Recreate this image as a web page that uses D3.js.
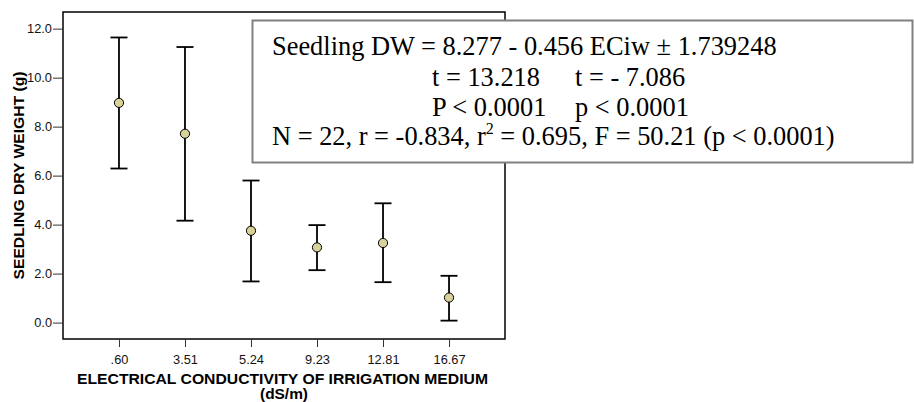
<!DOCTYPE html>
<html>
<head>
<meta charset="utf-8">
<script src="https://cdn.jsdelivr.net/npm/d3@7"></script>
<style>
  html, body { margin: 0; padding: 0; background: #fff; }
  svg { display: block; }
</style>
</head>
<body>
<svg id="chart" width="914" height="402"></svg>
<script>
// ---- data ----
const categories = [".60", "3.51", "5.24", "9.23", "12.81", "16.67"];
const means = [8.97, 7.71, 3.75, 3.07, 3.25, 1.02];
const upper = [11.64, 11.25, 5.80, 3.98, 4.87, 1.91];
const lower = [6.29, 4.16, 1.68, 2.14, 1.65, 0.08];
const yTicks = [0, 2, 4, 6, 8, 10, 12];
const xTitle = "ELECTRICAL CONDUCTIVITY OF IRRIGATION MEDIUM";
const xTitle2 = "(dS/m)";
const yTitle = "SEEDLING DRY WEIGHT (g)";

const svg = d3.select("#chart");
const pL = 63, pR = 505, pT = 12, pB = 339;

const x = d3.scalePoint().domain(categories).range([pL, pR]).padding(0.848);
const y = d3.scaleLinear().domain([-0.67, 12.68]).range([pB, pT]);

// frame
svg.append("rect")
  .attr("x", pL).attr("y", pT)
  .attr("width", pR - pL).attr("height", pB - pT)
  .attr("fill", "none").attr("stroke", "#000").attr("stroke-width", 1.5);

const sans = "Liberation Sans, Arial, sans-serif";

// y axis
const yAxis = d3.axisLeft(y).tickValues(yTicks).tickFormat(d3.format(".1f")).tickSize(10).tickPadding(1);
const gy = svg.append("g").attr("transform", `translate(${pL},0)`).call(yAxis);
gy.select(".domain").remove();
gy.selectAll(".tick line").attr("stroke", "#333");
gy.selectAll(".tick text").attr("font-family", sans)
  .attr("font-size", 12.8).attr("fill", "#111");

// x axis
const xAxis = d3.axisBottom(x).tickSize(8).tickPadding(8);
const gx = svg.append("g").attr("transform", `translate(0,${pB})`).call(xAxis);
gx.select(".domain").remove();
gx.selectAll(".tick line").attr("stroke", "#333");
gx.selectAll(".tick text").attr("font-family", sans)
  .attr("font-size", 12.8).attr("fill", "#111");

// axis titles
svg.append("text")
  .attr("x", 282.5).attr("y", 384)
  .attr("text-anchor", "middle")
  .attr("font-family", sans)
  .attr("font-weight", "bold").attr("font-size", 13.8).attr("fill", "#000")
  .attr("textLength", 411).attr("lengthAdjust", "spacingAndGlyphs")
  .text(xTitle);
svg.append("text")
  .attr("x", 284).attr("y", 399)
  .attr("text-anchor", "middle")
  .attr("font-family", sans)
  .attr("font-weight", "bold").attr("font-size", 13.8).attr("fill", "#000")
  .attr("textLength", 48).attr("lengthAdjust", "spacingAndGlyphs")
  .text(xTitle2);
svg.append("text")
  .attr("transform", `translate(23.5,${(pT + pB) / 2}) rotate(-90)`)
  .attr("text-anchor", "middle")
  .attr("font-family", sans)
  .attr("font-weight", "bold").attr("font-size", 13.8).attr("fill", "#000")
  .attr("textLength", 208).attr("lengthAdjust", "spacingAndGlyphs")
  .text(yTitle);

// error bars
const data = categories.map((c, i) => ({ c, m: means[i], hi: upper[i], lo: lower[i] }));
const capW = 8.5;
const g = svg.append("g");
g.selectAll("line.v").data(data).join("line").attr("class", "v")
  .attr("x1", d => x(d.c)).attr("x2", d => x(d.c))
  .attr("y1", d => y(d.hi)).attr("y2", d => y(d.lo))
  .attr("stroke", "#000").attr("stroke-width", 1.8);
g.selectAll("line.t").data(data).join("line").attr("class", "t")
  .attr("x1", d => x(d.c) - capW).attr("x2", d => x(d.c) + capW)
  .attr("y1", d => y(d.hi)).attr("y2", d => y(d.hi))
  .attr("stroke", "#000").attr("stroke-width", 1.8);
g.selectAll("line.b").data(data).join("line").attr("class", "b")
  .attr("x1", d => x(d.c) - capW).attr("x2", d => x(d.c) + capW)
  .attr("y1", d => y(d.lo)).attr("y2", d => y(d.lo))
  .attr("stroke", "#000").attr("stroke-width", 1.8);
g.selectAll("circle").data(data).join("circle")
  .attr("cx", d => x(d.c)).attr("cy", d => y(d.m)).attr("r", 4.6)
  .attr("fill", "#d8d19a").attr("stroke", "#000").attr("stroke-width", 1);

// annotation box
svg.append("rect")
  .attr("x", 252.5).attr("y", 20.5).attr("width", 660).attr("height", 142)
  .attr("fill", "#fff").attr("stroke", "#808080").attr("stroke-width", 2);

const serif = "Liberation Serif, Times New Roman, serif";
const fs = 26.4;
function t(xp, yp, s) {
  return svg.append("text").attr("x", xp).attr("y", yp)
    .attr("font-family", serif).attr("font-size", fs).attr("fill", "#000").text(s);
}
t(272, 55, "Seedling DW = 8.277 - 0.456 ECiw \u00b1 1.739248");
t(432, 86, "t = 13.218");
t(575, 86, "t = - 7.086");
t(432, 116, "P < 0.0001");
t(575, 116, "p < 0.0001");
const l4 = svg.append("text").attr("x", 272).attr("y", 145)
  .attr("font-family", serif).attr("font-size", fs).attr("fill", "#000");
l4.append("tspan").text("N = 22, r = -0.834, r");
l4.append("tspan").attr("font-size", 16).attr("dy", -11).text("2");
l4.append("tspan").attr("dy", 11).text(" = 0.695, F = 50.21 (p < 0.0001)");
</script>
</body>
</html>
